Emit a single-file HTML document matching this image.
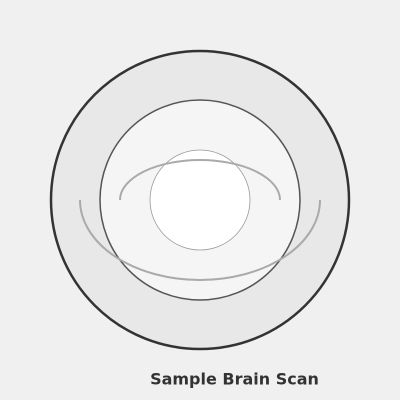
<!DOCTYPE html>
<html><head><meta charset="utf-8"><style>
html,body{margin:0;padding:0;background:#f0f0f0;}
svg{display:block;}
</style></head><body>
<svg width="400" height="400" viewBox="0 0 400 400">
<rect width="400" height="400" fill="#f0f0f0"/>
<circle cx="200" cy="200" r="149" fill="#e8e8e8" stroke="#333" stroke-width="2.5"/>
<circle cx="200" cy="200" r="100" fill="#f5f5f5" stroke="#555" stroke-width="1.5"/>
<circle cx="200" cy="200" r="50" fill="#fff" stroke="#999" stroke-width="0.8"/>
<path d="M80,200 A120,80 0 0 0 320,200" fill="none" stroke="#aaa" stroke-width="2"/>
<path d="M120,200 A80,40 0 0 1 280,200" fill="none" stroke="#aaa" stroke-width="2"/>
<text x="234.5" y="384.5" text-anchor="middle" font-family="DejaVu Sans, sans-serif" font-weight="bold" font-size="16" fill="#333">Sample Brain Scan</text>
</svg>
</body></html>
